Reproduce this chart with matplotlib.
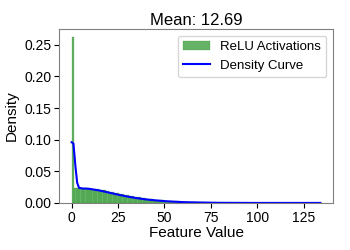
import numpy as np
import matplotlib.pyplot as plt

plt.rcParams['font.family'] = ['Liberation Sans', 'DejaVu Sans']

# Histogram (density), bin width ~1.34, range 0-134
bin_width = 1.34
bin_heights = [
    0.262, 0.023, 0.023, 0.023, 0.023, 0.023, 0.023, 0.0228, 0.0225, 0.022,
    0.0215, 0.021, 0.0205, 0.020, 0.019, 0.018, 0.0172, 0.0165, 0.0155, 0.0145,
    0.0138, 0.013, 0.0122, 0.0115, 0.0108, 0.010, 0.0094, 0.0088, 0.0081, 0.0075,
    0.007, 0.0064, 0.0059, 0.0054, 0.005, 0.0046, 0.0042, 0.0038, 0.0035, 0.0032,
    0.0029, 0.0026, 0.0024, 0.0022, 0.002, 0.0018, 0.0016, 0.0014, 0.0013, 0.0012,
    0.0011, 0.001, 0.0009, 0.0008, 0.0007, 0.0006, 0.0006, 0.0005, 0.0005, 0.0004,
    0.0004, 0.0003, 0.0003, 0.0003, 0.0002, 0.0002, 0.0002, 0.0002, 0.0001, 0.0001,
    0.0001, 0.0001, 0.0001, 0.0001, 0.0001, 0.0001, 0.0001, 0.0, 0.0001, 0.0,
    0.0, 0.0001, 0.0, 0.0, 0.0, 0.0001, 0.0, 0.0, 0.0, 0.0,
    0.0, 0.0, 0.0, 0.0, 0.0, 0.0, 0.0, 0.0, 0.0, 0.0001,
]
bin_left = np.arange(len(bin_heights)) * bin_width

# Density curve points
kde_x = [0, 1, 2, 3, 4, 6, 8, 10, 12, 15, 20, 25, 30, 35, 40, 45, 50, 55,
         60, 70, 80, 90, 100, 110, 120, 134]
kde_y = [0.096, 0.094, 0.06, 0.032, 0.024, 0.0228, 0.0228, 0.0222, 0.0212,
         0.0198, 0.0165, 0.0132, 0.0102, 0.0077, 0.0057, 0.0042, 0.003, 0.0021,
         0.0014, 0.0007, 0.0003, 0.0002, 0.0001, 0.0001, 0.0001, 0.0001]

mean_value = 12.69

fig = plt.figure(figsize=(3.5, 2.5), dpi=100)
ax = fig.add_axes([0.169, 0.188, 0.782, 0.696])

bars = ax.bar(bin_left, bin_heights, width=bin_width, align='edge', color='green',
              alpha=0.6, edgecolor='green', linewidth=0.2, label='ReLU Activations')
line, = ax.plot(kde_x, kde_y, color='blue', linewidth=1.5, label='Density Curve')

ax.set_xlim(-6.7, 140.7)
ax.set_ylim(0, 0.275)
ax.set_xticks([0, 25, 50, 75, 100, 125])
ax.set_yticks([0, 0.05, 0.10, 0.15, 0.20, 0.25])
ax.set_yticklabels(['0.00', '0.05', '0.10', '0.15', '0.20', '0.25'])
ax.tick_params(labelsize=10, length=3.5, pad=2)
for s in ax.spines.values():
    s.set_color('#808080')

ax.set_xlabel('Feature Value', fontsize=11, labelpad=1)
ax.set_ylabel('Density', fontsize=11, labelpad=4)
ax.set_title(f'Mean: {mean_value}', fontsize=12, pad=3)
ax.legend([bars, line], ['ReLU Activations', 'Density Curve'],
          fontsize=9.5, loc='upper right')

fig.savefig('out.png', dpi=100)
